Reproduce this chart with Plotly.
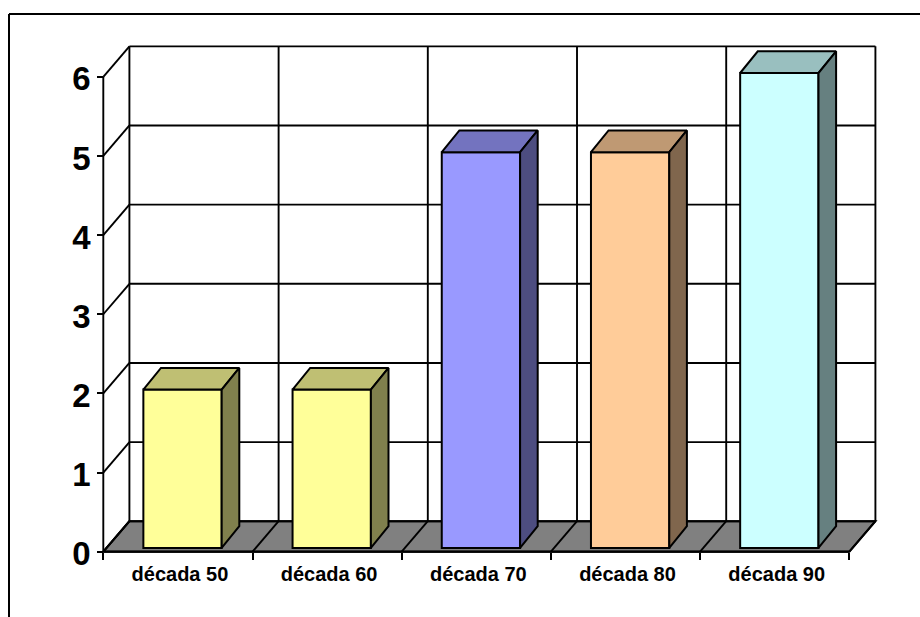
import plotly.graph_objects as go

# Chart data
categories = ["década 50", "década 60", "década 70", "década 80", "década 90"]
values = [2, 2, 5, 5, 6]
front_colors = ["#FFFF99", "#FFFF99", "#9999FF", "#FFCC99", "#CCFFFF"]
top_colors = ["#BFBF73", "#BFBF73", "#7373BF", "#BF9973", "#99BFBF"]
side_colors = ["#80804D", "#80804D", "#4D4D80", "#80664D", "#668080"]
value_ticks = [0, 1, 2, 3, 4, 5, 6]

# Oblique projection of the chart box, expressed in axis units
DEPTH_X = 0.175
DEPTH_Y = 0.385
BAR_WIDTH = 0.525
BAR_SHIFT = 0.031
BAR_BASE = 0.048
BAR_DEPTH_X = 0.118
BAR_DEPTH_Y = 0.274

# Pixel layout of the plotting area
WIDTH, HEIGHT = 920, 617
LEFT, RIGHT, TOP, BOTTOM = 90, 895, 30, 565
ORIGIN_X, ORIGIN_Y = 103.3, 551.7
UNIT_X, UNIT_Y = 149.2, 79.15

x_range = [(LEFT - ORIGIN_X) / UNIT_X, (RIGHT - ORIGIN_X) / UNIT_X]
y_range = [(ORIGIN_Y - BOTTOM) / UNIT_Y, (ORIGIN_Y - TOP) / UNIT_Y]
y_axis_pos = (0 - x_range[0]) / (x_range[1] - x_range[0])
x_axis_pos = (0 - y_range[0]) / (y_range[1] - y_range[0])

n = len(categories)
vmax = value_ticks[-1]
shapes = []


def segment(x0, y0, x1, y1, width=1.9):
    shapes.append(dict(type="line", xref="x", yref="y", layer="below",
                       x0=x0, y0=y0, x1=x1, y1=y1,
                       line=dict(color="black", width=width)))


# Floor of the box
shapes.append(dict(
    type="path", xref="x", yref="y", layer="below",
    path=f"M 0 0 L {n} 0 L {n + DEPTH_X} {DEPTH_Y} L {DEPTH_X} {DEPTH_Y} Z",
    fillcolor="#808080", line=dict(color="black", width=2)))

# Horizontal gridlines on the back wall, continued across the left wall
for k in value_ticks:
    segment(DEPTH_X, k + DEPTH_Y, n + DEPTH_X, k + DEPTH_Y)
    segment(0, k, DEPTH_X, k + DEPTH_Y)

# Category dividers on the floor and back wall
for i in range(n + 1):
    segment(i, 0, i + DEPTH_X, DEPTH_Y)
    segment(i + DEPTH_X, DEPTH_Y, i + DEPTH_X, vmax + DEPTH_Y)

segment(0, 0, 0, vmax)
segment(0, 0, n, 0, 2.2)

# Outer frame, open on the right and at the bottom
paper_x = lambda px: (px - LEFT) / (RIGHT - LEFT)
paper_y = lambda py: (BOTTOM - py) / (BOTTOM - TOP)
frame = dict(color="black", width=2)
shapes.append(dict(type="line", xref="paper", yref="paper",
                   x0=paper_x(9), y0=paper_y(14), x1=paper_x(920), y1=paper_y(14),
                   line=frame))
shapes.append(dict(type="line", xref="paper", yref="paper",
                   x0=paper_x(9), y0=paper_y(14), x1=paper_x(9), y1=paper_y(617),
                   line=frame))

fig = go.Figure()

# Front faces
centers = [i + 0.5 + BAR_SHIFT for i in range(n)]
fig.add_trace(go.Bar(
    x=centers, y=values, base=[BAR_BASE] * n, width=BAR_WIDTH,
    marker=dict(color=front_colors, line=dict(color="black", width=2)),
    hoverinfo="skip", showlegend=False))

# Top and side faces
edge = dict(color="black", width=2)
for c, v, top, side in zip(centers, values, top_colors, side_colors):
    x0, x1 = c - BAR_WIDTH / 2, c + BAR_WIDTH / 2
    y0, y1 = BAR_BASE, BAR_BASE + v
    dx, dy = BAR_DEPTH_X, BAR_DEPTH_Y
    fig.add_trace(go.Scatter(
        x=[x0, x1, x1 + dx, x0 + dx, x0], y=[y1, y1, y1 + dy, y1 + dy, y1],
        mode="lines", fill="toself", fillcolor=top, line=edge,
        hoverinfo="skip", showlegend=False))
    fig.add_trace(go.Scatter(
        x=[x1, x1 + dx, x1 + dx, x1, x1], y=[y0, y0 + dy, y1 + dy, y1, y0],
        mode="lines", fill="toself", fillcolor=side, line=edge,
        hoverinfo="skip", showlegend=False))

fig.update_layout(
    width=WIDTH, height=HEIGHT,
    margin=dict(l=LEFT, r=WIDTH - RIGHT, t=TOP, b=HEIGHT - BOTTOM, pad=0),
    paper_bgcolor="white", plot_bgcolor="white",
    shapes=shapes, showlegend=False,
    font=dict(family="Liberation Sans", color="black"),
    xaxis=dict(
        range=x_range, anchor="free", position=x_axis_pos,
        tickmode="array", tickvals=[i + 0.5 for i in range(n)], ticktext=categories,
        ticks="", showgrid=False, zeroline=False, showline=False,
        tickfont=dict(size=20, family="Liberation Sans", weight="bold"),
        ticklabelstandoff=8, ticklabelshift=2,
        minor=dict(tickmode="array", tickvals=list(range(n + 1)),
                   ticks="outside", ticklen=7, tickwidth=1.8, tickcolor="black",
                   showgrid=False)),
    yaxis=dict(
        range=y_range, anchor="free", position=y_axis_pos,
        tickmode="array", tickvals=value_ticks,
        ticks="outside", ticklen=6, tickwidth=1.8, tickcolor="black",
        showgrid=False, zeroline=False, showline=False,
        tickfont=dict(size=33, family="Liberation Sans", weight="bold"),
        ticklabelstandoff=0, ticklabelshift=2),
)

fig.write_html("out.html")
